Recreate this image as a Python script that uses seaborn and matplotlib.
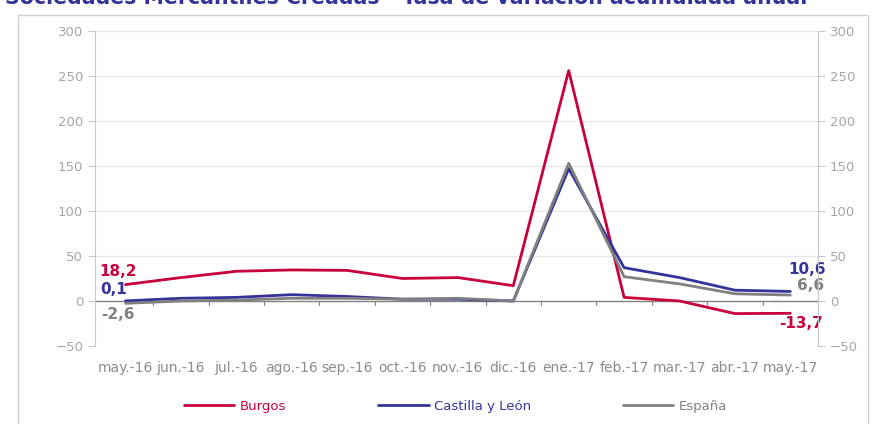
import matplotlib
matplotlib.use('Agg')
import matplotlib.pyplot as plt
import matplotlib.patches as mpatches
import pandas as pd
import seaborn as sns

# ----------------- data -----------------
months = ['may.-16', 'jun.-16', 'jul.-16', 'ago.-16', 'sep.-16', 'oct.-16', 'nov.-16',
          'dic.-16', 'ene.-17', 'feb.-17', 'mar.-17', 'abr.-17', 'may.-17']
burgos = [18.2, 26, 33, 34.5, 34, 25, 26, 17, 256, 4, 0, -14, -13.7]
cyl = [0.1, 3, 4, 7, 5, 2, 2, 0, 147, 37, 26, 12, 10.6]
espana = [-2.6, 0, 1, 3, 3, 2, 3, 0, 153, 27, 19, 8, 6.6]

series_names = ['Burgos', 'Castilla y León', 'España']
colors = {'Burgos': '#C8003C', 'Castilla y León': '#333399', 'España': '#808080'}

df = pd.DataFrame({'mes': months, 'Burgos': burgos, 'Castilla y León': cyl, 'España': espana})
long_df = df.melt(id_vars='mes', var_name='serie', value_name='valor')
long_df['pos'] = long_df['mes'].map({m: i for i, m in enumerate(months)})

# ----------------- plot -----------------
sns.set_style('white')
plt.rcParams['font.family'] = ['DejaVu Sans']

fig = plt.figure(figsize=(8.78, 4.24), dpi=100)
ax = fig.add_axes([0.1082, 0.184, 0.8235, 0.7429])

# outer frame
fig.patches.append(mpatches.Rectangle((18 / 878, -0.05), 850 / 878, 1 - 15 / 424 + 0.05,
                                      transform=fig.transFigure, fill=False,
                                      edgecolor='#D0D0D0', linewidth=1))

for y in range(50, 301, 50):
    ax.axhline(y, color='#E6E6E6', linewidth=0.8, zorder=0)
ax.axhline(0, color='#808080', linewidth=1, zorder=1)
for k in range(len(months) - 1):
    ax.plot([k + 0.5, k + 0.5], [0, -4], color='#808080', linewidth=0.8, zorder=1)

sns.lineplot(data=long_df, x='pos', y='valor', hue='serie', hue_order=series_names,
             palette=colors, linewidth=2, ax=ax, legend=False, zorder=3)

ax.set_xlim(-0.55, len(months) - 0.5)
ax.set_ylim(-50, 300)
ax.set_xticks(range(len(months)))
ax.set_xticklabels(months)
ax.set_yticks(range(-50, 301, 50))
ax.set_xlabel('')
ax.set_ylabel('')
ax.tick_params(axis='x', length=0, pad=11, labelsize=10, labelcolor='#8C8C8C')
ax.tick_params(axis='y', length=5, width=0.8, color='#C8C8C8', labelsize=9.5,
               labelcolor='#A6A6A6', left=True, direction='out')
for s in ['top', 'bottom']:
    ax.spines[s].set_visible(False)
ax.spines['left'].set_color('#C8C8C8')
ax.spines['right'].set_color('#C8C8C8')

ax2 = ax.twinx()
ax2.set_ylim(-50, 300)
ax2.set_yticks(range(-50, 301, 50))
ax2.tick_params(axis='y', length=5, width=0.8, color='#C8C8C8', labelsize=9.5,
                labelcolor='#A6A6A6', right=True, direction='out')
for s in ['top', 'bottom', 'left']:
    ax2.spines[s].set_visible(False)
ax2.spines['right'].set_color('#C8C8C8')

# data labels
lab_kw = dict(fontsize=11, fontweight='bold')
ax.text(-0.13, 24, '18,2', color=colors['Burgos'], ha='center', va='bottom', **lab_kw)
ax.text(-0.22, 4, '0,1', color=colors['Castilla y León'], ha='center', va='bottom', **lab_kw)
ax.text(-0.13, -6.5, '-2,6', color=colors['España'], ha='center', va='top', **lab_kw)
last = len(months) - 1
ax.text(last + 0.3, 27, '10,6', color=colors['Castilla y León'], ha='center', va='bottom', **lab_kw)
ax.text(last + 0.37, 8.5, '6,6', color=colors['España'], ha='center', va='bottom', **lab_kw)
ax.text(last + 0.2, -16.5, '-13,7', color=colors['Burgos'], ha='center', va='top', **lab_kw)

# title, clipped at the top edge as in the source
fig.text(0.006, 1.004, 'Sociedades Mercantiles Creadas - Tasa de variación acumulada anual',
         color='#333399', fontsize=14.8, fontweight='bold', ha='left', va='center')

# legend
handles = [plt.Line2D([0], [0], color=colors[n], linewidth=2) for n in series_names]
leg = fig.legend(handles, series_names, loc='center', bbox_to_anchor=(0.519, 0.042), ncol=3,
                 frameon=False, fontsize=9.5, handlelength=3.8, handletextpad=0.4,
                 columnspacing=7.0)
for txt, n in zip(leg.get_texts(), series_names):
    txt.set_color(colors[n])

fig.savefig('out.png', dpi=100)
